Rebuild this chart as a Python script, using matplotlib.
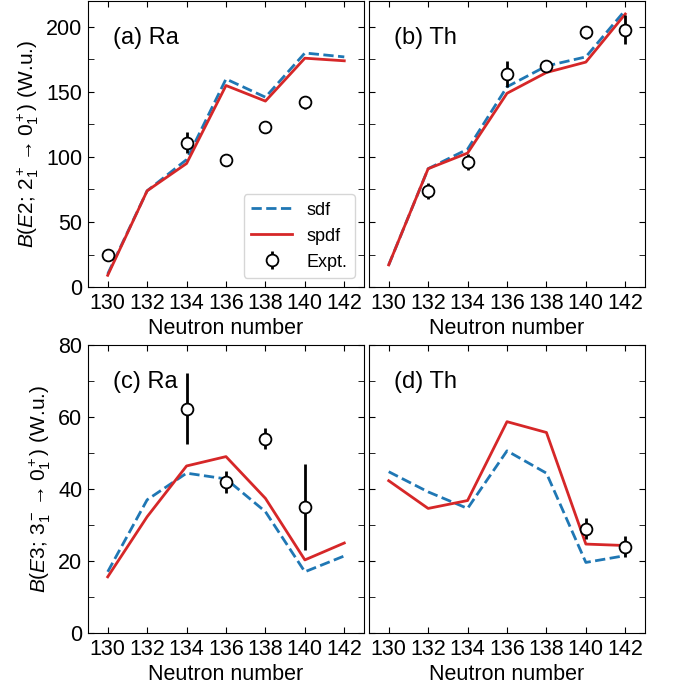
import matplotlib
matplotlib.use('Agg')
import matplotlib.pyplot as plt
from matplotlib.ticker import MultipleLocator

plt.rcParams['font.family'] = ['Liberation Sans', 'DejaVu Sans']
plt.rcParams['mathtext.fontset'] = 'custom'
plt.rcParams['mathtext.rm'] = 'Liberation Sans'
plt.rcParams['mathtext.it'] = 'Liberation Sans:italic'
plt.rcParams['font.size'] = 15.5

# neutron numbers
N = [130, 132, 134, 136, 138, 140, 142]

# B(E2) Ra
e2_ra_sdf = [10, 74, 98, 160, 146, 180, 177]
e2_ra_spdf = [9, 74, 95, 155, 143, 176, 174]
e2_ra_exp_n = [130, 134, 136, 138, 140]
e2_ra_exp = [25, 111, 98, 123, 142]
e2_ra_err = [2, 8, 2, 4, 5]

# B(E2) Th
e2_th_sdf = [17, 91, 106, 154, 170, 177, 213]
e2_th_spdf = [17, 91, 103, 149, 165, 173, 210]
e2_th_exp_n = [132, 134, 136, 138, 140, 142]
e2_th_exp = [74, 96, 164, 170, 196, 198]
e2_th_err = [6, 6, 10, 2, 5, 11]

# B(E3) Ra
e3_ra_sdf = [17, 37, 44.4, 42.8, 33.7, 17, 21.4]
e3_ra_spdf = [15.6, 32.3, 46.4, 49, 37.4, 20.3, 25]
e3_ra_exp_n = [134, 136, 138, 140]
e3_ra_exp = [62.3, 42, 54, 35]
e3_ra_err = [9.8, 3, 3, 12]

# B(E3) Th
e3_th_sdf = [44.8, 39.2, 34.6, 50.6, 44.4, 19.6, 21.5]
e3_th_spdf = [42.3, 34.6, 36.8, 58.7, 55.7, 24.7, 24.3]
e3_th_exp_n = [140, 142]
e3_th_exp = [29, 24]
e3_th_err = [3, 3]

fig = plt.figure(figsize=(6.78, 6.88), dpi=100)
w = 276 / 678
ax_a = fig.add_axes([88 / 678, 1 - 287 / 688, w, 286 / 688])
ax_b = fig.add_axes([369 / 678, 1 - 287 / 688, w, 286 / 688])
ax_c = fig.add_axes([88 / 678, 1 - 633 / 688, w, 288 / 688])
ax_d = fig.add_axes([369 / 678, 1 - 633 / 688, w, 288 / 688])

panels = [
    (ax_a, e2_ra_sdf, e2_ra_spdf, e2_ra_exp_n, e2_ra_exp, e2_ra_err, '(a) Ra'),
    (ax_b, e2_th_sdf, e2_th_spdf, e2_th_exp_n, e2_th_exp, e2_th_err, '(b) Th'),
    (ax_c, e3_ra_sdf, e3_ra_spdf, e3_ra_exp_n, e3_ra_exp, e3_ra_err, '(c) Ra'),
    (ax_d, e3_th_sdf, e3_th_spdf, e3_th_exp_n, e3_th_exp, e3_th_err, '(d) Th'),
]

for ax, sdf, spdf, en, ev, ee, lab in panels:
    ax.plot(N, sdf, '--', color='#1f77b4', lw=2, label='sdf')
    ax.plot(N, spdf, '-', color='#d62728', lw=2, label='spdf')
    ax.errorbar(en, ev, yerr=ee, fmt='o', color='black', mfc='white', mec='black',
                ms=8.5, mew=1.3, elinewidth=2, capsize=0, label='Expt.')
    ax.set_xlim(129, 143)
    ax.set_xticks(N)
    ax.set_xlabel('Neutron number', labelpad=3)
    ax.tick_params(direction='in', which='both', top=True, right=True, length=4,
                   labelsize=15.5, pad=4)
    ax.text(0.09, 0.87, lab, transform=ax.transAxes, fontsize=17, va='center')

for ax in (ax_a, ax_b):
    ax.set_ylim(0, 220)
    ax.yaxis.set_major_locator(MultipleLocator(50))
    ax.yaxis.set_minor_locator(MultipleLocator(25))
for ax in (ax_c, ax_d):
    ax.set_ylim(0, 80)
    ax.yaxis.set_major_locator(MultipleLocator(20))
    ax.yaxis.set_minor_locator(MultipleLocator(10))
for ax in (ax_b, ax_d):
    ax.tick_params(labelleft=False)

ax_a.set_ylabel(r'$B(E2;\,2^+_1\rightarrow0^+_1)$ (W.u.)', fontsize=15, labelpad=4)
ax_c.set_ylabel(r'$B(E3;\,3^-_1\rightarrow0^+_1)$ (W.u.)', fontsize=15, labelpad=4)
ax_a.legend(loc='lower right', fontsize=13, handlelength=2.3)

fig.savefig('out.png', dpi=100)
